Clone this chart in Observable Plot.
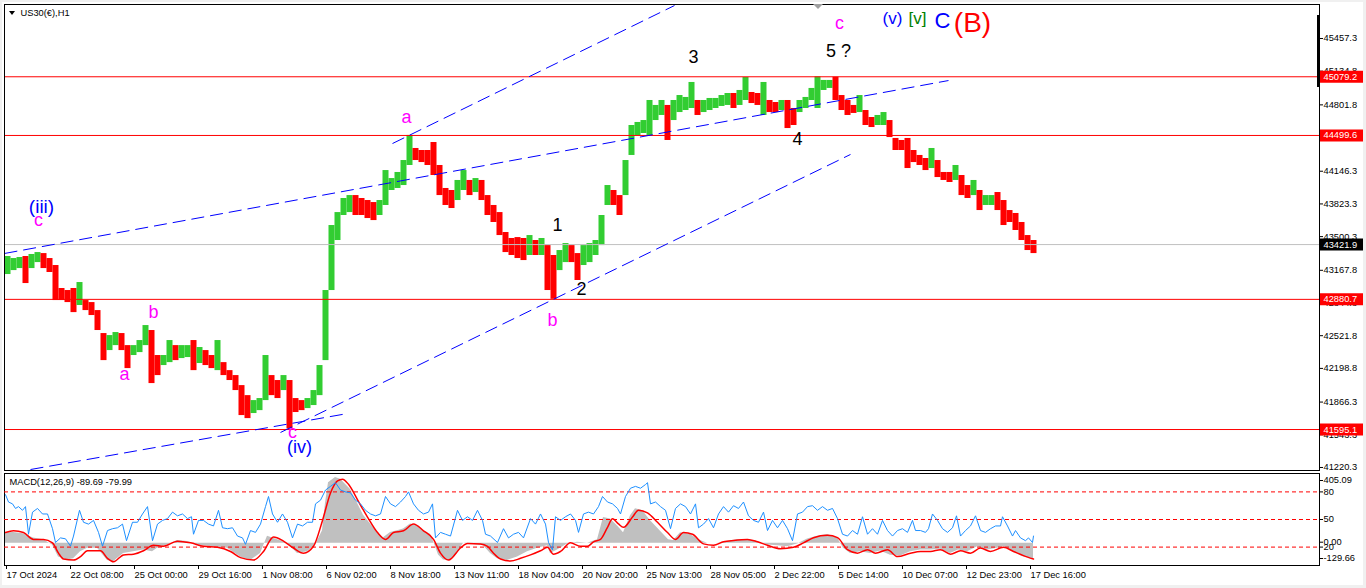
<!DOCTYPE html>
<html>
<head>
<meta charset="utf-8">
<script src="https://cdn.jsdelivr.net/npm/d3@7"></script>
<script src="https://cdn.jsdelivr.net/npm/@observablehq/plot@0.6"></script>
<style>
  html, body { margin:0; padding:0; background:#f0f0f0; }
  #wrap { position:relative; width:1366px; height:588px; overflow:hidden; background:#f0f0f0; }
  #paper { position:absolute; left:2px; top:2px; width:1361px; height:583px; background:#ffffff; }
  .layer { position:absolute; left:0; top:0; }
  #tri { position:absolute; left:9px; top:11px; width:0; height:0; border-left:3px solid transparent; border-right:3px solid transparent; border-top:4px solid #000; }
  #shift { position:absolute; left:813px; top:4px; width:0; height:0; border-left:5px solid transparent; border-right:5px solid transparent; border-top:5px solid #a0a0a0; }
  #scalebar { position:absolute; left:1317px; top:15px; width:3px; height:72px; background:#000; }
</style>
</head>
<body>
<div id="wrap">
  <div id="paper"></div>
  <div id="main" class="layer"></div>
  <div id="macd" class="layer"></div>
  <div id="osc" class="layer"></div>
  <div id="tri"></div>
  <div id="shift"></div>
  <div id="scalebar"></div>
</div>
<script>
// ---------------- DATA ----------------
const symbolTitle = "US30(€),H1";
const macdTitle = "MACD(12,26,9) -89.69 -79.99";

// price axis tick labels
const priceTicks = [45457.3, 45134.8, 44801.8, 44478.8, 44146.3, 43823.3, 43500.3, 43167.8, 42844.8, 42521.8, 42198.8, 41866.3, 41543.3, 41220.3];
// horizontal levels (red) and current bid (gray)
const levels = [45079.2, 44499.6, 42880.7, 41595.1];
const bidPrice = 43421.9;

// time axis: bar index of each label and the label
const timeTickBars = [0, 64, 128, 192, 256, 320, 384, 448, 512, 576, 640, 704, 768, 832, 896, 960, 1024];
const timeTickLabels = ["17 Oct 2024", "22 Oct 08:00", "25 Oct 00:00", "29 Oct 16:00", "1 Nov 08:00", "6 Nov 02:00", "8 Nov 18:00", "13 Nov 11:00", "18 Nov 04:00", "20 Nov 20:00", "25 Nov 13:00", "28 Nov 05:00", "2 Dec 22:00", "5 Dec 14:00", "10 Dec 07:00", "12 Dec 23:00", "17 Dec 16:00"];

// H1 price, read per block of 6 bars: block high / low
const BLOCK = 6;
const blockHigh = [
 43304,43284,43294,43304,43324,43343,43333,43284,43215,42988,
 42968,42988,43047,42869,42849,42770,42543,42523,42553,42543,
 42424,42424,42474,42622,42573,42326,42326,42474,42424,42424,
 42424,42474,42405,42375,42326,42474,42256,42177,42128,42029,
 41930,41881,41901,42326,42128,42079,42128,42079,41901,41881,
 41901,41980,42227,42968,43610,43738,43877,43906,43906,43877,
 43857,43837,43857,44153,44074,44134,44252,44500,44371,44351,
 44351,44430,44203,43976,43956,44055,44153,44055,44074,44055,
 43906,43808,43738,43541,43482,43491,43482,43511,43462,43482,
 43412,43314,43363,43432,43412,43333,43412,43432,43462,43709,
 44005,43956,43906,44252,44598,44628,44647,44845,44796,44845,
 44796,44845,44894,44875,45023,44845,44845,44865,44865,44894,
 44914,44914,44944,45072,44924,44914,45023,44845,44825,44845,
 44845,44766,44845,44875,44964,45079,45043,45043,45075,44894,
 44845,44796,44894,44746,44677,44697,44726,44647,44470,44450,
 44470,44351,44302,44272,44371,44252,44134,44134,44203,44104,
 44005,44055,43956,43906,43906,43936,43857,43758,43729,43640,
 43511,43462];
const blockLow = [
 43126,43165,43185,43037,43185,43244,43185,43146,42869,42869,
 42849,42750,42820,42770,42721,42573,42276,42375,42424,42375,
 42197,42326,42355,42424,42049,42128,42227,42256,42276,42296,
 42306,42177,42247,42227,42197,42177,42128,42079,41980,41733,
 41703,41753,41782,41881,41930,41901,41980,41600,41763,41782,
 41802,41832,41930,42276,42968,43462,43709,43738,43709,43709,
 43679,43659,43709,43808,43956,43976,44005,44203,44252,44232,
 44203,44104,43906,43808,43778,43857,43956,43906,43936,43857,
 43709,43640,43511,43343,43314,43284,43264,43314,43314,43314,
 42968,42881,43165,43244,43244,43067,43215,43244,43314,43412,
 43808,43808,43709,43906,44302,44499,44519,44499,44647,44697,
 44450,44647,44726,44746,44766,44697,44726,44746,44766,44786,
 44796,44766,44796,44845,44815,44796,44697,44726,44726,44746,
 44568,44598,44726,44766,44845,44766,44944,44964,44845,44746,
 44697,44717,44726,44598,44578,44598,44598,44479,44351,44351,
 44173,44232,44203,44153,44173,44084,44055,44035,44055,43906,
 43877,43906,43758,43808,43808,43758,43610,43640,43561,43462,
 43363,43333];

// blue dashed trend lines (bar, price) -> (bar, price)
const trendBar1 = [-1, 387, 25, 275];
const trendPrice1 = [43334, 44420, 41200, 41566];
const trendBar2 = [943, 669, 342, 845];
const trendPrice2 = [45042, 45783, 41753, 44312];

// wave labels
const annoText  = ["(iii)", "c", "a", "b", "c", "(iv)", "a", "1", "b", "2", "3", "4", "5 ?", "c", "(v)", "[v]", "C", "(B)"];
const annoBar   = [36, 33, 119, 148, 287, 294, 401, 552, 547, 576, 688, 792, 833, 834, 887, 912, 937, 967];
const annoPrice = [43790, 43660, 42139, 42751, 41569, 41421, 44677, 43610, 42672, 42978, 45270, 44460, 45329, 45610, 45655, 45650, 45630, 45610];
const annoColor = ["#0000ff", "#ff00ff", "#ff00ff", "#ff00ff", "#ff00ff", "#0000ff", "#ff00ff", "#000000", "#ff00ff", "#000000", "#000000", "#000000", "#000000", "#ff00ff", "#0000ff", "#008000", "#0000ff", "#ff0000"];
const annoSize  = [19, 18, 18, 18, 18, 18, 18, 18, 18, 18, 18, 18, 18, 18, 17, 17, 22, 28];

// MACD main (gray histogram), signal (red)
const macdBar = [0,8,18,28,38,47,53,62,68,75,82,92,102,108,118,128,138,147,152,162,172,182,195,208,222,235,245,255,262,272,282,292,302,310,317,320,323,330,335,345,352,358,365,372,378,385,392,398,405,412,418,425,428,433,438,445,452,458,478,485,492,502,512,522,532,542,545,552,562,572,582,592,598,605,612,618,625,630,637,645,655,663,668,675,685,693,702,712,722,732,742,752,762,772,782,792,802,812,822,832,838,845,855,865,875,885,895,905,915,925,935,945,953,962,972,982,992,998,1008,1018,1028];
const macdVal = [60,62,55,30,20,-10,-80,-98,-90,-50,-30,-30,-100,-108,-60,-50,-40,-50,-30,-10,15,10,-15,-20,-30,-80,-100,-60,40,20,0,-60,-50,-10,72,232,352,382,372,312,232,162,112,62,32,62,72,82,112,102,72,52,12,-68,-98,-100,-60,0,-15,-60,-90,-100,-80,-50,-30,-15,-60,-40,-5,5,0,20,150,140,100,60,160,200,190,130,70,20,15,60,50,20,0,0,10,20,20,10,-10,-15,-20,-5,25,40,50,30,-30,-60,-50,-60,-45,-70,-75,-50,-40,-40,-35,-60,-40,-50,-20,-40,-30,-20,-50,-80,-90];
const signalBar = [0,8,18,28,38,47,53,58,68,75,82,95,102,108,118,128,138,148,158,172,185,198,212,225,235,248,258,268,278,288,298,308,317,325,332,337,343,353,362,372,380,388,398,408,418,428,435,443,455,462,475,482,488,495,505,515,525,535,542,548,555,565,575,582,588,595,602,607,613,618,627,633,642,652,662,670,678,687,698,708,718,728,742,752,762,775,788,798,808,822,832,842,852,862,870,882,892,905,915,925,935,945,955,965,975,985,998,1008,1018,1028];
const signalVal = [62,72,62,22,22,2,-58,-92,-98,-78,-44,-44,-88,-108,-68,-64,-44,-12,-18,12,2,-18,-24,-48,-84,-98,-48,36,12,-28,-58,-18,132,292,362,372,342,242,152,62,22,62,72,112,72,22,-58,-98,-28,-2,-4,-18,-58,-92,-104,-88,-68,-44,-24,-64,-48,2,-18,-18,8,22,92,142,112,92,152,192,176,122,62,22,62,52,-4,-12,8,16,22,8,-12,-32,-24,2,32,46,32,-38,-58,-38,-58,-38,-78,-58,-48,-48,-38,-64,-44,-58,-28,-48,-24,-48,-72,-92];

// blue oscillator (0..100 scale with levels 80/50/20)
const oscLevels = [80, 50, 20];
const oscBar = [0,3,7,10,13,17,20,23,27,32,37,42,47,50,55,60,65,68,74,78,83,88,93,97,102,107,112,117,121,127,132,137,142,147,152,157,162,167,172,177,182,186,188,193,198,203,208,213,217,222,227,232,237,240,245,250,255,260,263,267,272,277,282,287,292,297,302,307,310,315,320,325,330,335,340,345,350,355,360,365,370,375,380,385,390,395,400,403,408,413,418,423,427,430,435,440,445,452,457,462,467,472,477,480,485,492,498,503,508,513,518,525,530,535,540,543,547,550,555,560,565,570,573,578,583,588,593,597,602,607,612,615,620,625,630,635,640,642,645,650,655,660,665,670,675,680,685,690,693,698,703,708,713,718,723,728,733,738,743,748,753,758,762,767,772,777,782,787,792,797,802,807,812,817,822,827,832,837,842,847,852,857,862,867,872,877,882,887,892,897,902,907,910,915,920,923,927,932,937,942,947,951,955,960,965,970,975,980,985,990,995,997,1002,1007,1010,1015,1020,1023,1027,1028];
const oscVal = [77,69,67,62,64,60,64,34,58,62,56,56,40,25,30,29,21,32,60,47,45,49,36,21,38,40,41,45,27,47,47,56,64,27,45,49,51,58,54,56,51,53,34,49,49,45,43,60,41,40,41,32,30,23,38,36,45,64,75,56,47,56,47,30,45,43,47,47,67,71,82,86,90,82,80,79,71,67,60,56,54,56,75,67,64,69,75,80,67,60,56,58,67,30,36,34,32,60,49,53,49,60,49,34,32,25,40,30,34,36,30,51,45,56,45,25,17,53,49,53,56,49,36,56,58,56,64,75,69,67,62,56,75,84,86,84,88,90,67,69,64,60,40,62,67,64,56,67,41,45,51,41,56,64,58,65,62,69,54,49,47,58,38,49,41,49,40,27,56,58,64,65,60,64,60,62,51,34,32,38,34,53,34,40,34,49,38,32,38,40,36,49,38,38,36,40,56,49,40,36,41,54,32,38,43,54,38,36,40,43,43,53,43,32,38,30,27,30,25,32];

// MACD panel right-axis values
const macdMax = 405.09, macdMin = -129.66;

// ---------------- LAYOUT ----------------
const W = 1366, H = 588;
const XMIN = -1, XMAX = 1314;          // bar domain across the plot area
const FONT = "'Liberation Sans', Arial, sans-serif";
const AX = 9.3;
const baseStyle = {background: "transparent", fontFamily: FONT, fontSize: AX + "px", color: "#000", overflow: "visible"};
const xScale = {domain: [XMIN, XMAX], axis: null};

const candles = blockHigh.map((h, i) => ({b: i * BLOCK, hi: h, lo: blockLow[i], mid: (h + blockLow[i]) / 2}));
candles.forEach((c, i) => { c.up = i === 0 ? true : c.mid >= candles[i - 1].mid; });

const trends = trendBar1.map((b, i) => ({x1: b, y1: trendPrice1[i], x2: trendBar2[i], y2: trendPrice2[i]}));
const annos = annoText.map((t, i) => ({t, b: annoBar[i], p: annoPrice[i], c: annoColor[i], s: annoSize[i]}));
const sizes = [...new Set(annoSize)];

const mainPlot = Plot.plot({
  width: W, height: H,
  marginLeft: 4, marginRight: 47, marginTop: 4, marginBottom: 118,
  x: xScale,
  y: {domain: [41190.4, 45793.1]},
  style: baseStyle,
  marks: [
    Plot.rect(candles, {x1: d => d.b - 0.5, x2: d => d.b + BLOCK - 0.5, y1: "lo", y2: "hi", fill: d => d.up ? "#32cd32" : "#ff0000"}),
    Plot.ruleY([bidPrice], {stroke: "#c0c0c0", strokeWidth: 1}),
    Plot.ruleY(levels, {stroke: "#ff0000", strokeWidth: 1}),
    Plot.link(trends, {x1: "x1", y1: "y1", x2: "x2", y2: "y2", stroke: "#0000ff", strokeWidth: 1, strokeDasharray: "13,6", clip: true}),
    ...sizes.map(s => Plot.text(annos.filter(a => a.s === s), {x: "b", y: "p", text: "t", fill: "c", fontSize: s, fontFamily: FONT})),
    Plot.text([symbolTitle], {frameAnchor: "top-left", dx: 16, dy: 9, textAnchor: "start", lineAnchor: "middle", fill: "#000"}),
    Plot.axisY(priceTicks, {anchor: "right", tickSize: 3, tickPadding: 1, tickFormat: d => d.toFixed(1), label: null}),
    Plot.ruleY(levels, {x1: XMAX + 1, x2: XMAX + 44, stroke: "#ff0000", strokeWidth: 12}),
    Plot.text(levels, {x: XMAX + 1, y: d => d, text: d => d.toFixed(1), fill: "#ffffff", textAnchor: "start", dx: 3}),
    Plot.ruleY([bidPrice], {x1: XMAX + 1, x2: XMAX + 44, stroke: "#000000", strokeWidth: 12}),
    Plot.text([bidPrice], {x: XMAX + 1, y: d => d, text: d => d.toFixed(1), fill: "#ffffff", textAnchor: "start", dx: 3}),
    Plot.frame({stroke: "#000"})
  ]
});
document.getElementById("main").appendChild(mainPlot);

const macdData = macdBar.map((b, i) => ({b, v: macdVal[i]}));
const sigData = signalBar.map((b, i) => ({b, v: signalVal[i]}));
const tickLabelOf = new Map(timeTickBars.map((b, i) => [b, timeTickLabels[i]]));

const macdPlot = Plot.plot({
  width: W, height: H,
  marginLeft: 4, marginRight: 47, marginTop: 473, marginBottom: 23,
  x: {domain: [XMIN, XMAX]},
  y: {domain: [macdMin, macdMax]},
  style: baseStyle,
  marks: [
    Plot.areaY(macdData, {x: "b", y1: 0, y2: "v", fill: "#c0c0c0", clip: true}),
    Plot.line(sigData, {x: "b", y: "v", stroke: "#ff0000", strokeWidth: 1.5, curve: "monotone-x", clip: true}),
    Plot.text([macdTitle], {frameAnchor: "top-left", dx: 5, dy: 9, textAnchor: "start", lineAnchor: "middle", fill: "#000"}),
    Plot.axisY([macdMax], {anchor: "right", tickSize: 3, tickPadding: 1, dy: 7, tickFormat: d => d.toFixed(2), label: null}),
    Plot.axisY([0], {anchor: "right", tickSize: 3, tickPadding: 1, dy: -1, tickFormat: d => d.toFixed(2), label: null}),
    Plot.axisY([macdMin], {anchor: "right", tickSize: 3, tickPadding: 1, dy: -7, tickFormat: d => d.toFixed(2), label: null}),
    Plot.axisX(timeTickBars, {anchor: "bottom", tickSize: 4, tickPadding: 2, textAnchor: "start", dx: 1, tickFormat: d => tickLabelOf.get(d), label: null}),
    Plot.frame({stroke: "#000"})
  ]
});
document.getElementById("macd").appendChild(macdPlot);

const oscData = oscBar.map((b, i) => ({b, v: oscVal[i]}));
const oscPlot = Plot.plot({
  width: W, height: H,
  marginLeft: 4, marginRight: 47, marginTop: 473, marginBottom: 23,
  x: xScale,
  y: {domain: [0, 100]},
  style: baseStyle,
  marks: [
    Plot.ruleY(oscLevels, {stroke: "#ff0000", strokeWidth: 1, strokeDasharray: "4,3"}),
    Plot.line(oscData, {x: "b", y: "v", stroke: "#1e90ff", strokeWidth: 1, clip: true}),
    Plot.axisY(oscLevels, {anchor: "right", tickSize: 3, tickPadding: 1, tickFormat: d => String(d), label: null})
  ]
});
document.getElementById("osc").appendChild(oscPlot);
</script>
</body>
</html>
